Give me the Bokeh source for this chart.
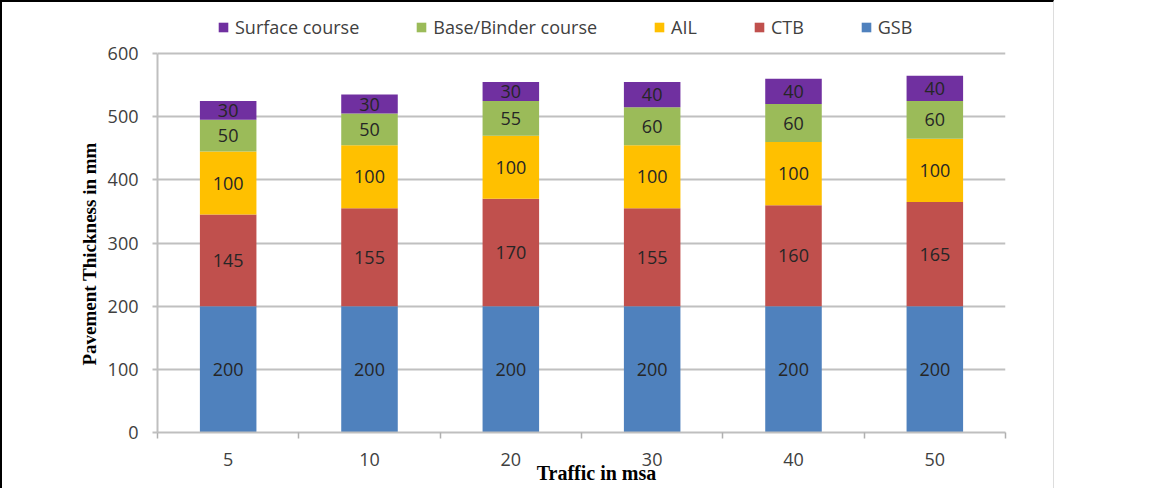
from bokeh.plotting import figure
from bokeh.models import (ColumnDataSource, Range1d, FixedTicker, Legend, LegendItem, Title)
from bokeh.core.properties import value
from bokeh.embed import file_html
from bokeh.resources import INLINE

# ---- data ----
traffic = ["5", "10", "20", "30", "40", "50"]
gsb = [200, 200, 200, 200, 200, 200]
ctb = [145, 155, 170, 155, 160, 165]
ail = [100, 100, 100, 100, 100, 100]
base_binder = [50, 50, 55, 60, 60, 60]
surface = [30, 30, 30, 40, 40, 40]

layers = ["GSB", "CTB", "AIL", "Base/Binder course", "Surface course"]
layer_values = [gsb, ctb, ail, base_binder, surface]
colors = ["#4F81BD", "#C0504D", "#FFC000", "#9BBB59", "#7030A0"]
y_ticks = [0, 100, 200, 300, 400, 500, 600]

FONT = "Open Sans"

xs = [i + 0.5 for i in range(len(traffic))]
data = {"x": xs}
for name, vals in zip(layers, layer_values):
    data[name] = vals
src = ColumnDataSource(data)

# frame extends above 600 to host the legend row
p = figure(width=1051, height=486, output_backend="svg", toolbar_location=None,
           x_range=Range1d(0, len(traffic)), y_range=Range1d(0, 665),
           frame_width=848, frame_height=420,
           min_border_left=155, min_border_right=48, min_border_top=10, min_border_bottom=56)
p.outline_line_color = None
p.background_fill_color = "white"
p.border_fill_color = "white"

renderers = p.vbar_stack(layers, x="x", width=0.4, source=src, color=colors, line_color=None)

# data labels at segment centres
lx, ly, lt = [], [], []
for i in range(len(traffic)):
    bottom = 0
    for vals in layer_values:
        v = vals[i]
        lx.append(xs[i])
        ly.append(bottom + v / 2)
        lt.append(str(v))
        bottom += v
p.text(x=lx, y=ly, text=lt, text_font=value(FONT), text_font_size="18px",
       text_color="#262626", text_align="center", text_baseline="middle")

# axes
xa = p.xaxis[0]
xa.ticker = FixedTicker(ticks=xs, minor_ticks=list(range(len(traffic) + 1)))
xa.major_label_overrides = {x: t for x, t in zip(xs, traffic)}
xa.major_tick_line_color = None
xa.major_tick_out = 5
xa.minor_tick_out = 6
xa.minor_tick_in = 0
xa.minor_tick_line_color = "#b0b0b0"
xa.minor_tick_line_width = 1.5
xa.axis_line_color = "#bfbfbf"
xa.axis_line_width = 2
xa.major_label_text_font = FONT
xa.major_label_text_font_size = "18px"
xa.major_label_text_color = "#404040"
xa.major_label_standoff = 14
xa.axis_label = "\u00a0" * 6 + "Traffic in msa"
xa.axis_label_text_font = "Liberation Serif"
xa.axis_label_text_font_style = "bold"
xa.axis_label_text_font_size = "20px"
xa.axis_label_text_color = "#000000"
xa.axis_label_standoff = -7

ya = p.yaxis[0]
ya.ticker = FixedTicker(ticks=y_ticks)
ya.bounds = (y_ticks[0], y_ticks[-1])
ya.minor_tick_line_color = None
ya.major_tick_out = 5
ya.major_tick_in = 0
ya.major_tick_line_color = "#bfbfbf"
ya.major_tick_line_width = 2
ya.axis_line_color = "#bfbfbf"
ya.axis_line_width = 2
ya.major_label_text_font = FONT
ya.major_label_text_font_size = "18px"
ya.major_label_text_color = "#404040"
ya.major_label_standoff = 14

# y-axis title as a left-side Title, anchored from the bottom of the frame
ytitle = Title(text="Pavement Thickness in mm", align="left", offset=67,
               text_font="Liberation Serif", text_font_style="bold",
               text_font_size="19px", text_color="#000000")
p.add_layout(ytitle, "left")

p.xgrid.grid_line_color = None
p.ygrid.ticker = FixedTicker(ticks=y_ticks)
p.ygrid.grid_line_color = "#c0c0c0"
p.ygrid.grid_line_width = 2

# legend row at the top of the frame
legend_order = ["Surface course", "Base/Binder course", "AIL", "CTB", "GSB"]
items = [LegendItem(label=n, renderers=[renderers[layers.index(n)]]) for n in legend_order]
lg = Legend(items=items, location=(60, 393), orientation="horizontal",
            padding=0, margin=0, spacing=56,
            glyph_width=12, glyph_height=12, label_standoff=6,
            label_text_font=FONT, label_text_font_size="18px",
            label_text_color="#404040", border_line_color=None,
            background_fill_alpha=0)
p.add_layout(lg, "center")

p.styles = {"border-top": "2px solid #000000", "border-left": "2px solid #000000",
            "border-right": "1px solid #dddddd"}

open("out.html", "w").write(file_html(p, INLINE))
